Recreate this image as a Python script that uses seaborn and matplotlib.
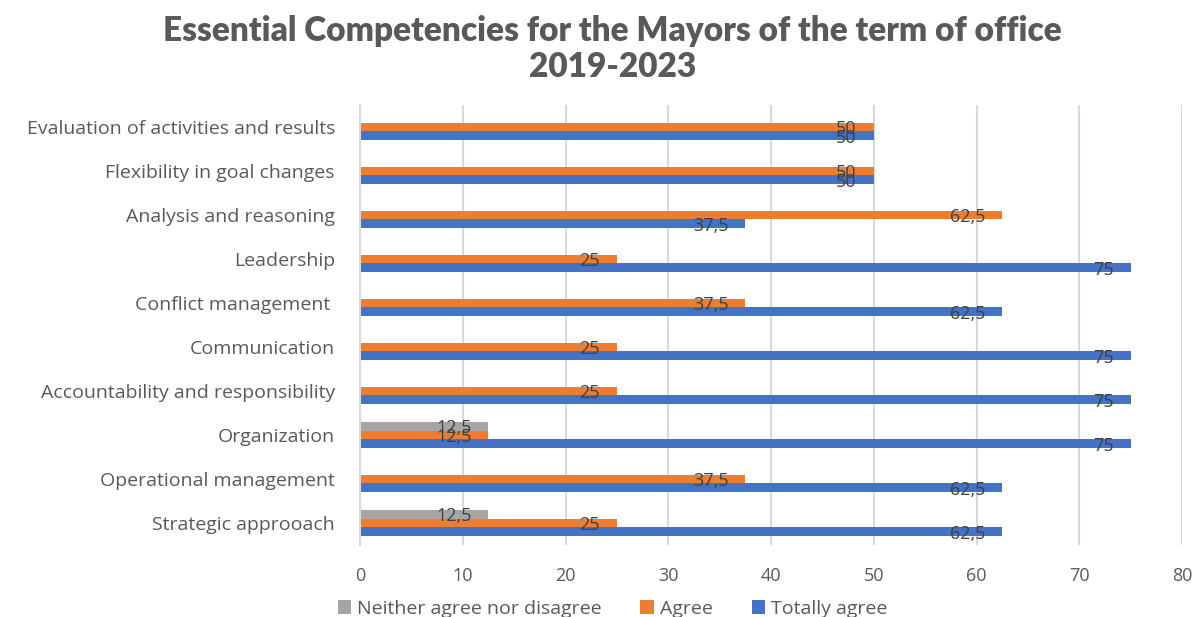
import matplotlib
matplotlib.use("Agg")
import matplotlib.pyplot as plt
import numpy as np
import pandas as pd
import seaborn as sns

# categories, top to bottom as shown
competencies = [
    "Evaluation of activities and results",
    "Flexibility in goal changes",
    "Analysis and reasoning",
    "Leadership",
    "Conflict management ",
    "Communication",
    "Accountability and responsibility",
    "Organization",
    "Operational management",
    "Strategic approoach",
]
neither = [0, 0, 0, 0, 0, 0, 0, 12.5, 0, 12.5]
agree = [50, 50, 62.5, 25, 37.5, 25, 25, 12.5, 37.5, 25]
totally = [50, 50, 37.5, 75, 62.5, 75, 75, 75, 62.5, 62.5]

responses = ["Neither agree nor disagree", "Agree", "Totally agree"]
colours = ["#A5A5A5", "#ED7D31", "#4472C4"]

df = pd.DataFrame({
    "Competency": competencies * 3,
    "Response": np.repeat(responses, len(competencies)),
    "Value": neither + agree + totally,
})

sns.set_style("white")
plt.rcParams["font.family"] = ["Open Sans", "DejaVu Sans"]

fig = plt.figure(figsize=(11.94, 6.17), dpi=100)
ax = fig.add_axes([0.3015, 0.1167, 0.6885, 0.7132])

sns.barplot(data=df, x="Value", y="Competency", hue="Response",
            hue_order=responses, palette=colours, orient="h",
            width=0.6, order=competencies, ax=ax, saturation=1,
            edgecolor="none")

# data labels, inside end
for cont in ax.containers:
    for bar in cont:
        v = bar.get_width()
        if v <= 0:
            continue
        yc = bar.get_y() + bar.get_height() / 2
        ax.annotate(f"{v:g}".replace(".", ","), (v, yc),
                    xytext=(-17, -2), textcoords="offset pixels",
                    ha="right", va="center", fontsize=13, color="#404040")

ax.set_xlim(0, 80)
ax.set_ylim(len(competencies) - 0.5, -0.5)
ax.set_xticks(range(0, 81, 10))
ax.grid(axis="x", color="#d9d9d9", linewidth=1.5)
ax.set_axisbelow(True)
for s in ["top", "right", "bottom"]:
    ax.spines[s].set_visible(False)
ax.spines["left"].set_color("#d9d9d9")
ax.spines["left"].set_linewidth(1.5)
ax.tick_params(length=0, labelsize=13, colors="#595959")
ax.tick_params(axis="y", labelsize=14, pad=18)
ax.tick_params(axis="x", pad=16)
ax.set_xlabel("")
ax.set_ylabel("")

handles, labels = ax.get_legend_handles_labels()
ax.legend_.remove()
fig.legend(handles, labels, loc="lower center", bbox_to_anchor=(0.513, -0.03),
           ncol=3, frameon=False, fontsize=14, handlelength=0.7,
           handleheight=0.7, handletextpad=0.3, columnspacing=2.0,
           labelcolor="#595959")

fig.suptitle("Essential Competencies for the Mayors of the term of office\n2019-2023",
             x=0.513, y=0.975, fontsize=24, fontweight="heavy", color="#595959",
             family=["Lato", "DejaVu Sans"], linespacing=1.15)

fig.savefig("out.png", dpi=100)
